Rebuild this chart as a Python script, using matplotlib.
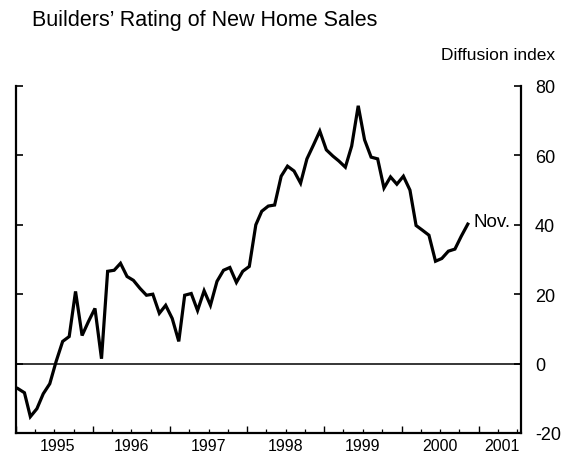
import matplotlib
matplotlib.use('Agg')
import matplotlib.pyplot as plt
import matplotlib.dates as mdates
import pandas as pd

# Monthly diffusion index, Jan 1995 - Nov 2000
start_month = '1995-01-01'
values = [
    -7.2, -8.4, -15.3, -13.0, -8.7, -5.8, 0.6, 6.4, 7.8, 20.8, 8.1, 12.1,   # 1995
    15.9, 1.4, 26.6, 26.9, 28.9, 25.1, 24.0, 21.7, 19.7, 20.0, 14.5, 16.8,  # 1996
    13.0, 6.4, 19.7, 20.2, 15.3, 21.0, 16.8, 23.7, 26.9, 27.7, 23.4, 26.6,  # 1997
    28.0, 40.0, 43.9, 45.4, 45.7, 54.0, 56.9, 55.5, 52.0, 59.0, 63.0, 67.0,  # 1998
    61.6, 59.8, 58.4, 56.6, 62.7, 74.3, 64.5, 59.5, 59.0, 50.6, 53.8, 51.7,  # 1999
    54.0, 50.0, 39.8, 38.4, 37.0, 29.5, 30.3, 32.4, 33.0, 36.7, 40.2,        # 2000
]
year_labels = ['1995', '1996', '1997', '1998', '1999', '2000', '2001']
label_dates = ['1995-07-15', '1996-07-01', '1997-07-01', '1998-07-01',
               '1999-07-01', '2000-07-01', '2001-04-20']
y_ticks = [-20, 0, 20, 40, 60, 80]

plt.rcParams['font.family'] = ['Liberation Sans', 'DejaVu Sans']
plt.rcParams['axes.unicode_minus'] = False

dates = pd.date_range(start_month, periods=len(values), freq='MS') + pd.Timedelta(days=9)

fig = plt.figure(figsize=(5.68, 4.56), dpi=100)
ax = fig.add_axes([16 / 568, 1 - 434 / 456, 505 / 568, 347 / 456])

ax.plot(dates, values, color='black', lw=2.3, solid_joinstyle='miter')
ax.axhline(0, color='black', lw=1.1)

ax.set_ylim(-20, 80)
ax.set_xlim(pd.Timestamp('1995-01-01'), pd.Timestamp('2001-07-20'))

for side in ['left', 'right', 'bottom']:
    ax.spines[side].set_linewidth(1.6)
ax.spines['top'].set_visible(False)

ax.set_yticks(y_ticks)
ax.yaxis.set_ticks_position('both')
ax.tick_params(axis='y', direction='in', length=5, width=1.2,
               labelleft=False, labelright=True, labelsize=13, pad=10)

ax.xaxis.set_major_locator(mdates.YearLocator())
ax.xaxis.set_minor_locator(mdates.MonthLocator(bymonth=[4, 7, 10]))
ax.xaxis.set_major_formatter(plt.NullFormatter())
ax.tick_params(axis='x', which='major', direction='in', length=5, width=1.0)
ax.tick_params(axis='x', which='minor', direction='in', length=3, width=0.9)

# year labels sit in the middle of each year
for lab, d in zip(year_labels, label_dates):
    ax.text(pd.Timestamp(d), -21.5, lab, ha='center', va='top', fontsize=11.5,
            transform=ax.transData, clip_on=False)

ax.annotate('Nov.', xy=(dates[-1], values[-1]), xytext=(4, 2),
            textcoords='offset points', ha='left', va='center', fontsize=13.5)

fig.text(32 / 568, 1 - 26 / 456, "Builders\u2019 Rating of New Home Sales",
         fontsize=15.5, ha='left', va='baseline')
fig.text(555 / 568, 1 - 60 / 456, 'Diffusion index', fontsize=12.5,
         ha='right', va='baseline')

fig.savefig('out.png', dpi=100)
